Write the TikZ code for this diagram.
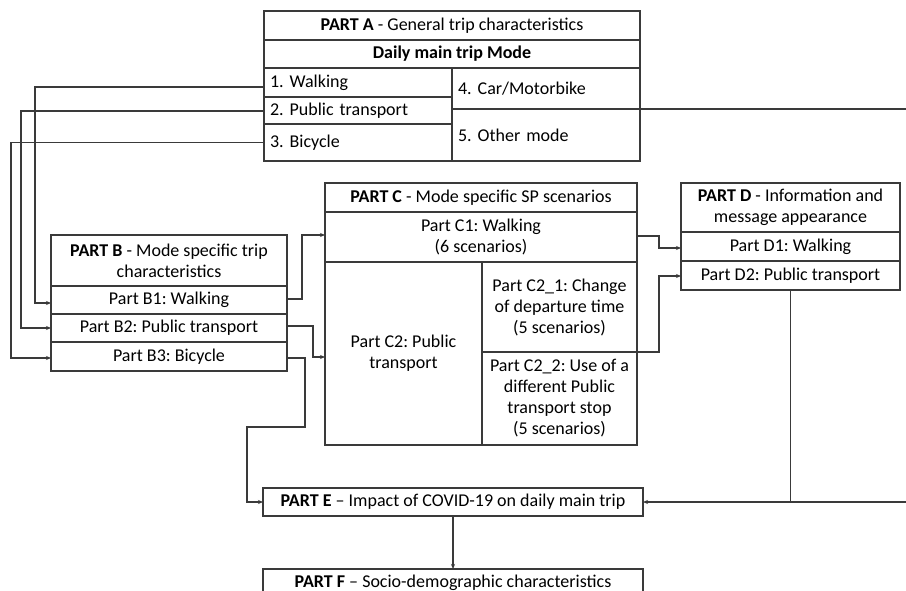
\documentclass[tikz,border=0pt]{standalone}
\usepackage{fontspec}
\setmainfont{Carlito}
\usetikzlibrary{arrows.meta}
\definecolor{linec}{HTML}{3A3A3A}
\newcommand{\fs}{\fontsize{18}{21}\selectfont\frenchspacing}
\begin{document}
\begin{tikzpicture}[x=1pt,y=-1pt,
  line/.style={draw=linec, line width=1.1pt},
  cell/.style={draw=linec, line width=1.1pt, anchor=north west, inner sep=0pt, outer sep=0pt, align=center, font=\fs},
  lcell/.style={cell, align=left, inner xsep=6pt, text width=176pt, minimum width=188pt},
  arr/.style={line, -{Stealth[length=5pt,width=4pt]}}]
\clip (0,0) rectangle (906,591);
\fill[white] (0,0) rectangle (906,591);
% PART A
\node[cell, minimum width=376pt, minimum height=29pt] (aT) at (264,11) {\textbf{PART A} - General trip characteristics};
\node[cell, minimum width=376pt, minimum height=28pt] (aM) at (264,40) {\textbf{Daily main trip Mode}};
\node[lcell, minimum height=29pt] (aW) at (264,68) {1. Walking};
\node[lcell, minimum height=27pt] (aP) at (264,97) {2. Public transport};
\node[lcell, minimum height=37pt] (aB) at (264,124) {3. Bicycle};
\node[lcell, minimum height=41pt] (aC) at (452,68) {4. Car/Motorbike};
\node[lcell, minimum height=52pt] (aO) at (452,109) {5. Other mode};
% PART B
\node[cell, minimum width=236pt, minimum height=51pt] (bT) at (51,235) {\textbf{PART B} - Mode specific trip\\characteristics};
\node[cell, minimum width=236pt, minimum height=28pt] (b1) at (51,286) {Part B1: Walking};
\node[cell, minimum width=236pt, minimum height=28pt] (b2) at (51,314) {Part B2: Public transport};
\node[cell, minimum width=236pt, minimum height=29pt] (b3) at (51,342) {Part B3: Bicycle};
% PART C
\node[cell, minimum width=312pt, minimum height=29pt] (cT) at (325,183) {\textbf{PART C} - Mode specific SP scenarios};
\node[cell, minimum width=312pt, minimum height=50pt] (c1) at (325,212) {Part C1: Walking\\(6 scenarios)};
\node[cell, minimum width=157pt, minimum height=183pt] (c2) at (325,262) {Part C2: Public\\transport};
\node[cell, minimum width=155pt, minimum height=90pt] (c21) at (482,262) {Part C2\_1: Change\\of departure time\\(5 scenarios)};
\node[cell, minimum width=155pt, minimum height=93pt] (c22) at (482,352) {Part C2\_2: Use of a\\different Public\\transport stop\\(5 scenarios)};
% PART D
\node[cell, minimum width=219pt, minimum height=49pt] (dT) at (681,183) {\textbf{PART D} - Information and\\message appearance};
\node[cell, minimum width=219pt, minimum height=29pt] (d1) at (681,232) {Part D1: Walking};
\node[cell, minimum width=219pt, minimum height=29pt] (d2) at (681,261) {Part D2: Public transport};
% PART E, F
\node[cell, minimum width=380pt, minimum height=28pt] (e) at (263,488) {\textbf{PART E} – Impact of COVID-19 on daily main trip};
\node[cell, minimum width=380pt, minimum height=28pt] (f) at (263,569) {\textbf{PART F} – Socio-demographic characteristics};
% free ends at the right edge
\coordinate (rA) at (906,110);
\coordinate (rE) at (906,501);
% connectors
\draw[arr] ([yshift=-4.5pt]aW.west) -- ++(-229,0) |- ([yshift=-3pt]b1.west);
\draw[arr] ([yshift=-0.5pt]aP.west) -- ++(-243,0) |- (b2.west);
\draw[arr] (aB.west) -- ++(-253,0) |- ([yshift=-1.5pt]b3.west);
\draw[line] (aO.north east) -- (aO.north east -| rA);
\draw[arr] ([yshift=1pt]b1.east) -- ++(15,0) |- ([yshift=2pt]c1.west);
\draw[arr] ([yshift=2pt]b2.east) -- ++(26,0) |- ([yshift=-3.5pt]c2.west);
\draw[arr] ([yshift=-1.5pt]b3.east) -- ++(18,0) |- ++(-58,69) |- (e.west);
\draw[arr] ([yshift=1pt]c1.east) -- ++(22,0) |- ([yshift=-1.5pt]d1.west);
\draw[arr] (c21.south east) -- ++(22,0) |- ([yshift=-0.5pt]d2.west);
\draw[line] (d2.south) -- (d2.south |- e.east);
\draw[arr] (e.east -| rE) -- (e.east);
\draw[arr] (e.south) -- (f.north);
\end{tikzpicture}
\end{document}
